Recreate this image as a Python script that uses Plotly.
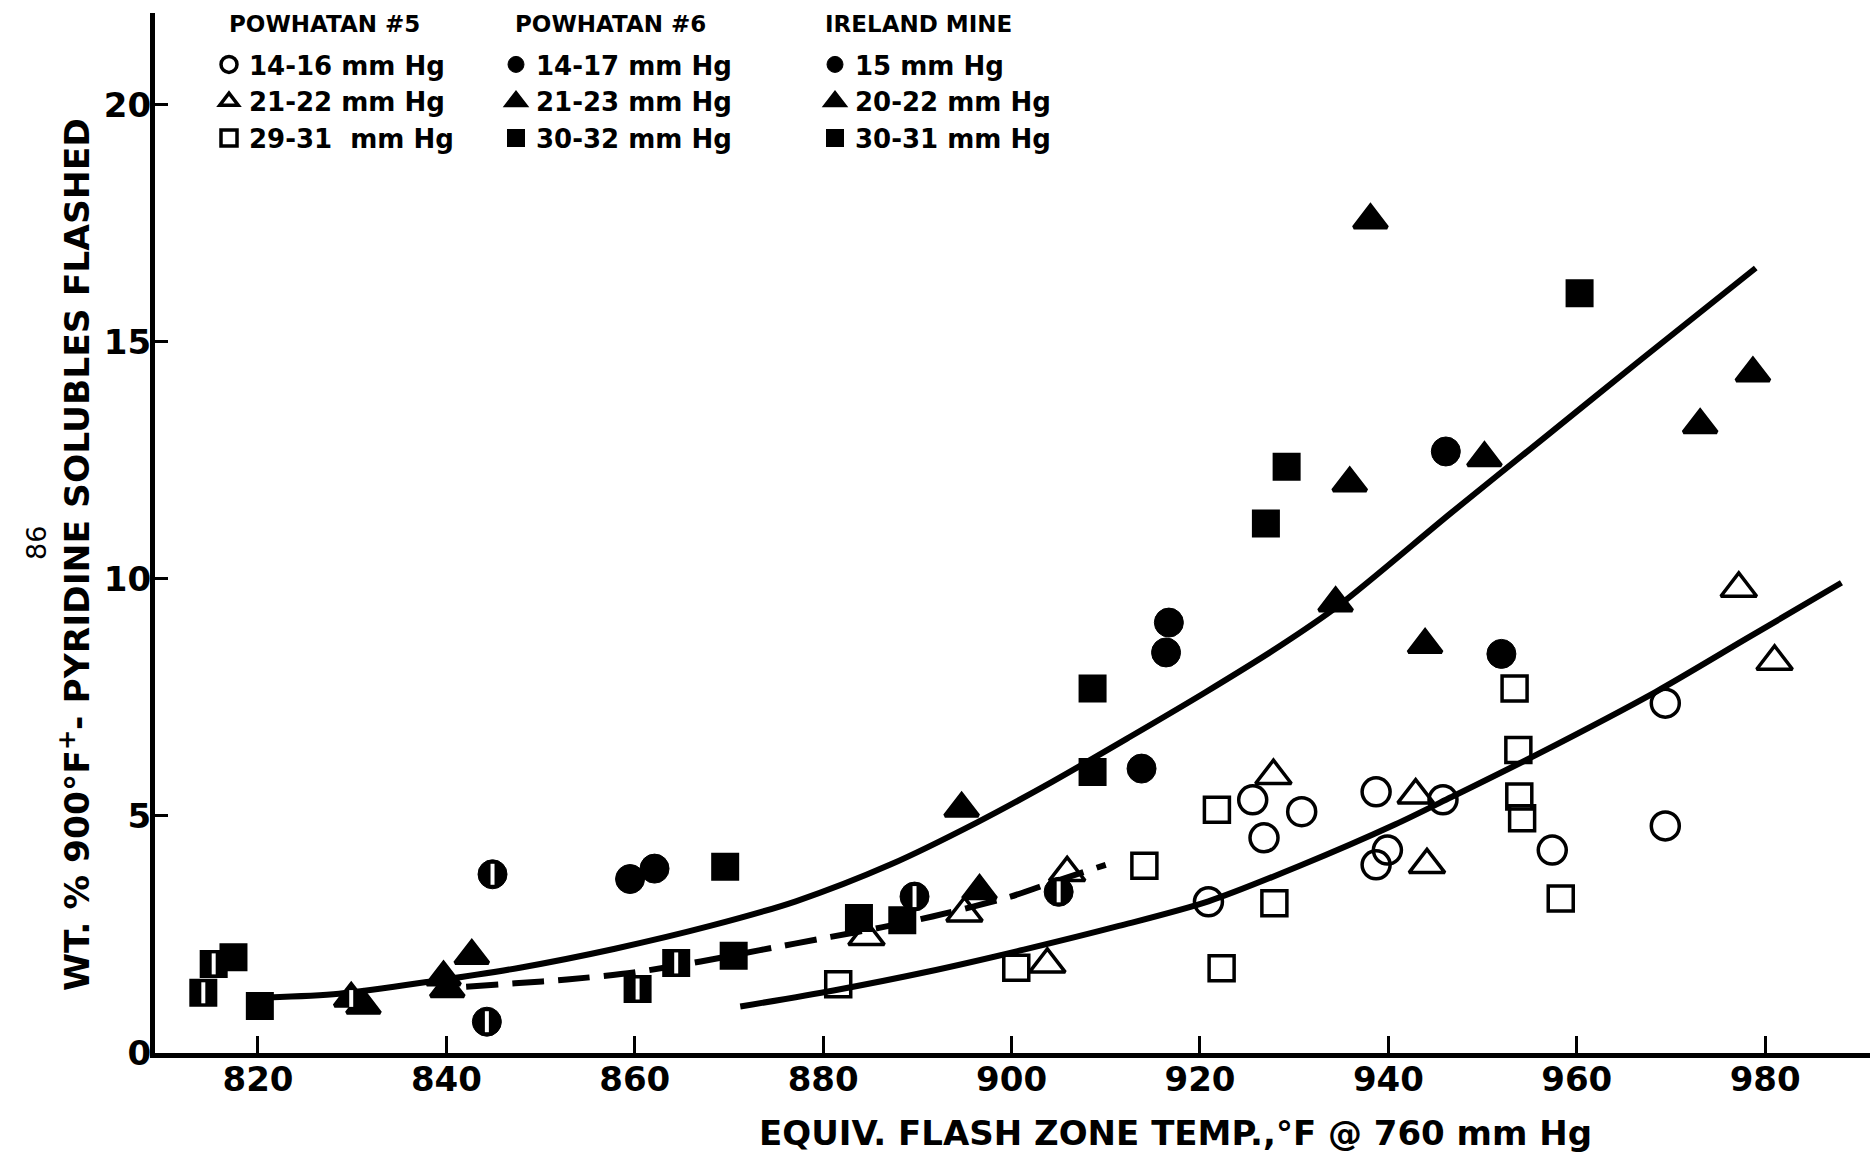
import plotly.graph_objects as go

# ---- Powhatan #5 (open symbols) ----
p5_c_T = [920.9, 925.6, 926.8, 930.8, 938.7, 939.9, 938.7, 945.8, 957.4, 969.4, 969.4]
p5_c_v = [3.19, 5.34, 4.54, 5.09, 5.51, 4.28, 3.97, 5.34, 4.28, 7.38, 4.79]
p5_t_T = [884.6, 895.0, 903.8, 905.9, 927.8, 942.9, 944.1, 977.2, 981.0]
p5_t_v = [2.45, 2.95, 1.87, 3.80, 5.85, 5.44, 3.97, 9.80, 8.26]
p5_s_T = [881.6, 900.5, 914.1, 921.8, 922.3, 927.9, 953.4, 953.8, 953.9, 954.2, 958.3]
p5_s_v = [1.45, 1.80, 3.95, 5.13, 1.79, 3.16, 7.69, 6.39, 5.41, 4.95, 3.26]

# ---- Powhatan #6 (filled symbols) ----
p6_c_T = [859.5, 862.1, 913.8, 916.4, 916.7, 946.1, 952.0]
p6_c_v = [3.67, 3.89, 6.00, 8.45, 9.08, 12.69, 8.42]
p6_t_T = [831.2, 839.7, 840.1, 842.7, 894.7, 896.6, 934.4, 935.9, 938.1, 943.9, 950.2, 973.1, 978.7]
p6_t_v = [1.00, 1.60, 1.35, 2.05, 5.16, 3.42, 9.49, 12.02, 17.57, 8.61, 12.55, 13.25, 14.34]
p6_s_T = [817.4, 820.2, 869.6, 870.5, 883.8, 888.4, 908.6, 908.6, 927.0, 929.2, 960.3]
p6_s_v = [2.02, 0.99, 3.93, 2.05, 2.85, 2.80, 7.69, 5.93, 11.17, 12.37, 16.03]

# ---- Ireland Mine (half-filled symbols) ----
ir_c_T = [844.9, 844.3, 889.7, 905.0]
ir_c_v = [3.77, 0.66, 3.30, 3.40]
ir_t_T = [829.9]
ir_t_v = [1.15]
ir_s_T = [814.2, 815.3, 860.3, 864.4]
ir_s_v = [1.27, 1.88, 1.35, 1.90]

# ---- Hand-fitted trend curves ----
up_T = [821.0, 828.6, 838.7, 847.8, 857.9, 868.0, 877.1, 887.2, 896.3, 904.3, 912.4, 920.5, 928.6, 934.6,
        946.7, 956.8, 966.9, 979.0]
up_v = [1.17, 1.25, 1.52, 1.80, 2.20, 2.68, 3.20, 3.98, 4.86, 5.72, 6.65, 7.60, 8.60, 9.42,
        11.40, 13.02, 14.64, 16.56]
dash_T = [842.1, 847.3, 852.8, 859.9, 867.0, 873.3, 880.8, 886.2, 891.6, 899.9, 904.3, 910.0]
dash_v = [1.40, 1.47, 1.55, 1.70, 1.93, 2.17, 2.45, 2.65, 2.88, 3.30, 3.60, 3.97]
lo_T = [871.2, 881.1, 891.2, 901.3, 911.4, 920.9, 930.6, 940.7, 946.7, 955.8, 968.4, 978.0, 988.1]
lo_v = [0.98, 1.32, 1.72, 2.18, 2.68, 3.20, 3.95, 4.82, 5.40, 6.30, 7.62, 8.74, 9.92]

x_ticks = [820, 840, 860, 880, 900, 920, 940, 960, 980]
y_ticks = [0, 5, 10, 15, 20]

FONT = "DejaVu Sans"
INK = "black"

fig = go.Figure()

# trend curves
for T, v, dash in [(up_T, up_v, "solid"), (lo_T, lo_v, "solid"), (dash_T, dash_v, "32px,14px")]:
    fig.add_trace(go.Scatter(x=T, y=v, mode="lines", showlegend=False, hoverinfo="skip",
                             line=dict(color=INK, width=6, dash=dash, shape="spline", smoothing=0.8)))


def points(T, v, symbol, size, name, legend, lw=3.5):
    fig.add_trace(go.Scatter(
        x=T, y=v, mode="markers", name=name, legend=legend, legendgroup=legend + name,
        marker=dict(symbol=symbol, size=size, color=INK, line=dict(color=INK, width=lw))))


def slit(T, v, size, legend, name):
    # white vertical notch that turns a solid mark into the half-filled Ireland symbol
    fig.add_trace(go.Scatter(
        x=T, y=v, mode="markers", showlegend=False, legend=legend, legendgroup=legend + name,
        hoverinfo="skip",
        marker=dict(symbol="line-ns", size=size, color="white", line=dict(color="white", width=4))))


points(p5_c_T, p5_c_v, "circle-open", 28, "14-16 mm Hg", "legend")
points(p5_t_T, p5_t_v, "triangle-up-open", 31, "21-22 mm Hg", "legend")
points(p5_s_T, p5_s_v, "square-open", 25, "29-31  mm Hg", "legend")

points(p6_c_T, p6_c_v, "circle", 29, "14-17 mm Hg", "legend2", lw=1)
points(p6_t_T, p6_t_v, "triangle-up", 29, "21-23 mm Hg", "legend2", lw=4)
points(p6_s_T, p6_s_v, "square", 26, "30-32 mm Hg", "legend2", lw=2)

points(ir_c_T, ir_c_v, "circle", 29, "15 mm Hg", "legend3", lw=1)
slit(ir_c_T, ir_c_v, 15, "legend3", "15 mm Hg")
points(ir_t_T, ir_t_v, "triangle-up", 29, "20-22 mm Hg", "legend3", lw=4)
slit(ir_t_T, ir_t_v, 12, "legend3", "20-22 mm Hg")
points(ir_s_T, ir_s_v, "square", 26, "30-31 mm Hg", "legend3", lw=2)
slit(ir_s_T, ir_s_v, 15, "legend3", "30-31 mm Hg")

legend_common = dict(
    xref="container", yref="container", xanchor="left", yanchor="top",
    bgcolor="rgba(0,0,0,0)", borderwidth=0, itemsizing="trace",
    font=dict(family=FONT, size=26, color=INK, weight="bold"),
    tracegroupgap=0, traceorder="normal",
)


def legend_box(x_px):
    d = dict(legend_common)
    d.update(x=x_px / 1870, y=1 - 41 / 1153)
    return d


# plot-area geometry (px) used to place the column headers and axis titles
L, T_, W, H = 155, 13, 1715, 1040


def px_x(x):
    return (x - L) / W


def px_y(y):
    return (T_ + H - y) / H


headers = ["POWHATAN #5", "POWHATAN #6", "IRELAND MINE"]
header_x = [227, 513, 823]

annotations = [
    dict(text=h, xref="paper", yref="paper", x=px_x(hx), y=px_y(24), showarrow=False,
         xanchor="left", yanchor="middle", font=dict(family=FONT, size=23, color=INK, weight="bold"))
    for h, hx in zip(headers, header_x)
]
annotations += [
    dict(text="EQUIV. FLASH ZONE TEMP.,°F @ 760 mm Hg", xref="paper", yref="paper",
         x=px_x(1175), y=px_y(1133), showarrow=False, xanchor="center", yanchor="middle",
         font=dict(family=FONT, size=34, color=INK, weight="bold")),
    dict(text="WT. % 900°F<sup>+</sup>- PYRIDINE SOLUBLES FLASHED", xref="paper", yref="paper",
         x=px_x(75), y=px_y(555), showarrow=False, textangle=-90, xanchor="center", yanchor="middle",
         font=dict(family=FONT, size=34.5, color=INK, weight="bold")),
    dict(text="86", xref="paper", yref="paper", x=px_x(36), y=px_y(543), showarrow=False,
         textangle=-90, xanchor="center", yanchor="middle",
         font=dict(family=FONT, size=27, color=INK)),
]

fig.update_layout(
    width=1870, height=1153,
    margin=dict(l=L, r=0, t=T_, b=1153 - T_ - H, autoexpand=False),
    paper_bgcolor="white", plot_bgcolor="white",
    font=dict(family=FONT, color=INK),
    showlegend=True,
    legend=legend_box(209),
    legend2=legend_box(496),
    legend3=legend_box(815),
    xaxis=dict(range=[809.07, 991.13], tickvals=x_ticks, ticks="inside", ticklen=17, tickwidth=3,
               tickcolor=INK, showline=True, linecolor=INK, linewidth=5, showgrid=False,
               zeroline=False, ticklabelstandoff=-8, tickangle=0, automargin=False,
               tickfont=dict(family=FONT, size=34, color=INK, weight="bold")),
    yaxis=dict(range=[0, 21.94], tickvals=y_ticks, ticks="inside", ticklen=13, tickwidth=3,
               tickcolor=INK, showline=True, linecolor=INK, linewidth=5, showgrid=False,
               zeroline=False, ticklabelstandoff=-8, automargin=False,
               tickfont=dict(family=FONT, size=34, color=INK, weight="bold")),
    annotations=annotations,
)

fig.write_html("out.html")
